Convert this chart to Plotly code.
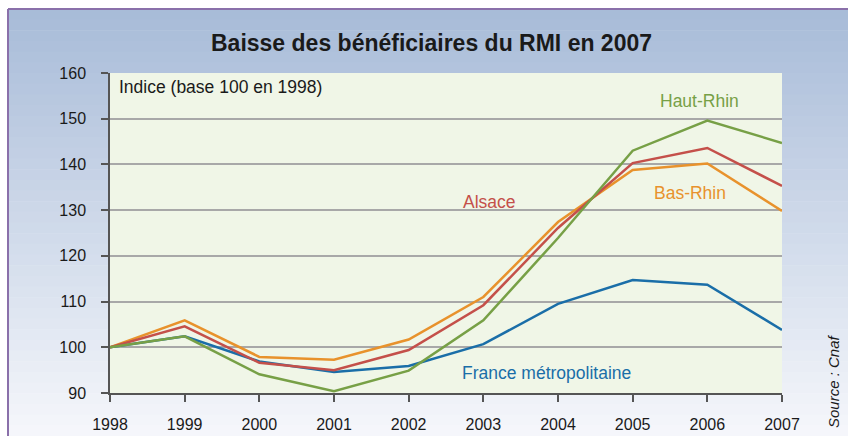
import plotly.graph_objects as go

years = [1998, 1999, 2000, 2001, 2002, 2003, 2004, 2005, 2006, 2007]
france = [100, 102.4, 96.9, 94.6, 95.9, 100.7, 109.5, 114.7, 113.7, 103.8]
bas_rhin = [100, 105.9, 97.9, 97.3, 101.7, 111.0, 127.4, 138.8, 140.2, 129.8]
alsace = [100, 104.6, 96.6, 95.0, 99.4, 109.2, 126.1, 140.3, 143.6, 135.3]
haut_rhin = [100, 102.4, 94.1, 90.4, 94.9, 105.9, 123.9, 143.0, 149.6, 144.7]
y_ticks = [90, 100, 110, 120, 130, 140, 150, 160]

FONT = "Liberation Sans, Arial, sans-serif"

fig = go.Figure()

series = [
    ("France métropolitaine", france, "#1a6ea8"),
    ("Bas-Rhin", bas_rhin, "#e8922c"),
    ("Alsace", alsace, "#c4504a"),
    ("Haut-Rhin", haut_rhin, "#77a046"),
]
for name, vals, col in series:
    fig.add_trace(go.Scatter(x=years, y=vals, mode="lines", name=name,
                             line=dict(color=col, width=2.5), showlegend=False,
                             hoverinfo="skip"))

# plot area: x 110..782, y 73..393 px
L, R, T, B = 110, 782, 73, 393
W, H = R - L, B - T
def px(x):
    return (x - L) / W
def py(y):
    return (B - y) / H

shapes = []
# gradient panel
top_c = (167, 187, 216)
bot_c = (246, 247, 251)
n = 40
y0p, y1p = 9, 436
for i in range(n):
    a = y0p + (y1p - y0p) * i / n
    b = y0p + (y1p - y0p) * (i + 1) / n
    t = (i + 0.5) / n
    c = tuple(int(round(top_c[k] + (bot_c[k] - top_c[k]) * t)) for k in range(3))
    shapes.append(dict(type="rect", xref="paper", yref="paper", layer="below",
                       x0=px(8), x1=px(850), y0=py(b + 0.5), y1=py(a),
                       fillcolor="rgb(%d,%d,%d)" % c, line=dict(width=0)))
# plot background
shapes.append(dict(type="rect", xref="paper", yref="paper", layer="below",
                   x0=0, x1=1, y0=0, y1=1, fillcolor="#f0f6e7", line=dict(width=0)))
# border lines
shapes.append(dict(type="line", xref="paper", yref="paper", x0=px(8), x1=px(850),
                   y0=py(9), y1=py(9), line=dict(color="#8a70aa", width=2)))
shapes.append(dict(type="line", xref="paper", yref="paper", x0=px(8), x1=px(8),
                   y0=py(9), y1=py(440), line=dict(color="#8a70aa", width=2)))

annotations = [
    dict(text="<b>Baisse des bénéficiaires du RMI en 2007</b>", xref="paper", yref="paper",
         x=px(431), y=py(43), showarrow=False,
         font=dict(family=FONT, size=23, color="#1a1a1a"),
         xanchor="center", yanchor="middle"),
    dict(text="Indice (base 100 en 1998)", xref="paper", yref="paper",
         x=px(117), y=py(87), showarrow=False, xanchor="left", yanchor="middle",
         font=dict(family=FONT, size=17.5, color="#1a1a1a")),
    dict(text="Haut-Rhin", x=2005.9, y=153.9, showarrow=False,
         font=dict(family=FONT, size=17.5, color="#77a046")),
    dict(text="Bas-Rhin", x=2005.77, y=133.7, showarrow=False,
         font=dict(family=FONT, size=17.5, color="#e8922c")),
    dict(text="Alsace", x=2003.08, y=131.8, showarrow=False,
         font=dict(family=FONT, size=17.5, color="#c4504a")),
    dict(text="France métropolitaine", x=2003.85, y=94.4, showarrow=False,
         font=dict(family=FONT, size=17.5, color="#1a6ea8")),
    dict(text="<i>Source : Cnaf</i>", xref="paper", yref="paper",
         x=px(833), y=py(381), textangle=-90, showarrow=False,
         xanchor="center", yanchor="middle",
         font=dict(family=FONT, size=15, color="#1a1a1a")),
]

fig.update_layout(
    width=848, height=436,
    margin=dict(l=L, r=848 - R, t=T, b=436 - B, autoexpand=False),
    paper_bgcolor="white",
    plot_bgcolor="rgba(0,0,0,0)",
    shapes=shapes,
    annotations=annotations,
    hovermode=False,
    xaxis=dict(range=[1998, 2007], tickvals=years, ticktext=[str(y) for y in years],
               showgrid=False, zeroline=False, showline=True, linecolor="#555555",
               linewidth=1.5, ticks="outside", ticklen=7, tickcolor="#555555",
               tickwidth=1.5, ticklabelstandoff=9, automargin=False,
               tickfont=dict(family=FONT, size=16, color="#1a1a1a")),
    yaxis=dict(range=[90, 160], tickvals=y_ticks, showgrid=True, gridcolor="#a8a8a8",
               gridwidth=1.5, zeroline=False, showline=True, linecolor="#555555",
               linewidth=1.5, ticks="outside", ticklen=7, tickcolor="#555555",
               tickwidth=1.5, ticklabelstandoff=12, automargin=False,
               tickfont=dict(family=FONT, size=16, color="#1a1a1a")),
)

fig.write_html("out.html", config={"displayModeBar": False},
               post_script="document.body.style.margin='0px';")
